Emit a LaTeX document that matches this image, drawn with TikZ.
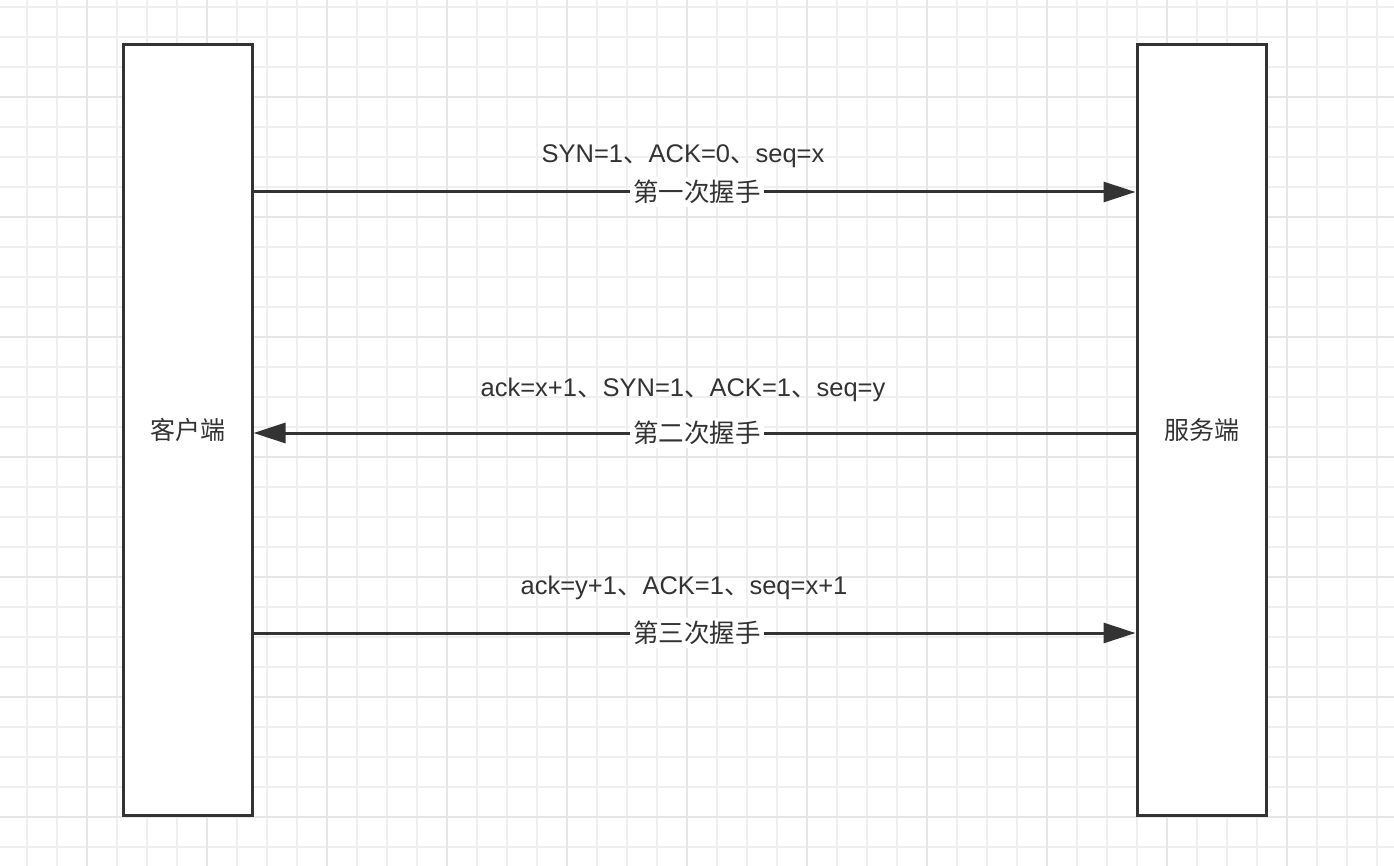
\documentclass[tikz,border=0pt]{standalone}
\usepackage{fontspec}
\setmainfont{Liberation Sans}
\newfontfamily\cjk{Noto Sans CJK SC}
\usetikzlibrary{arrows.meta}
\definecolor{ink}{HTML}{333333}
\definecolor{gridminor}{HTML}{EFEFEF}
\definecolor{gridmajor}{HTML}{E6E6E6}
\begin{document}
\begin{tikzpicture}[x=1pt,y=-1pt,
  party/.style={draw=ink,line width=3pt,fill=white,minimum width=129pt,minimum height=770pt,inner sep=0pt,font=\fontsize{25}{30}\selectfont\cjk,text=ink},
  msg/.style={draw=ink,line width=3pt,-{Triangle[length=32pt,width=20pt]}},
  toplabel/.style={font=\fontsize{25.5}{30}\selectfont,text=ink,inner sep=0pt},
  steplabel/.style={font=\fontsize{25.5}{30}\selectfont\cjk,text=ink,fill=white,inner sep=3pt,xshift=2.5pt}
]
\useasboundingbox (0,0) rectangle (1394,866);
\fill[white] (0,0) rectangle (1394,866);
\foreach \x in {27,57,...,1394} {\draw[gridminor,line width=1.6pt] (\x,0) -- (\x,866);}
\foreach \y in {7,37,...,866} {\draw[gridminor,line width=1.6pt] (0,\y) -- (1394,\y);}
\foreach \x in {87,207,...,1394} {\draw[gridmajor,line width=2pt] (\x,0) -- (\x,866);}
\foreach \y in {97,217,...,866} {\draw[gridmajor,line width=2pt] (0,\y) -- (1394,\y);}

\node[party] (client) at (187.5,430) {客户端};
\node[party] (server) at (1201.5,430) {服务端};

\coordinate (c1) at (client.east |- 0,192);
\coordinate (s1) at (server.west |- 0,192);
\coordinate (c2) at (client.east |- 0,433);
\coordinate (s2) at (server.west |- 0,433);
\coordinate (c3) at (client.east |- 0,633);
\coordinate (s3) at (server.west |- 0,633);

\draw[msg] (c1) -- node[steplabel] (l1) {第一次握手} (s1);
\draw[msg] (s2) -- node[steplabel] (l2) {第二次握手} (c2);
\draw[msg] (c3) -- node[steplabel] (l3) {第三次握手} (s3);

\node[toplabel] (t1) at (683,156) {SYN=1{\cjk 、}ACK=0{\cjk 、}seq=x};
\node[toplabel] (t2) at (683,390) {ack=x+1{\cjk 、}SYN=1{\cjk 、}ACK=1{\cjk 、}seq=y};
\node[toplabel] (t3) at (684,588) {ack=y+1{\cjk 、}ACK=1{\cjk 、}seq=x+1};
\end{tikzpicture}
\end{document}
